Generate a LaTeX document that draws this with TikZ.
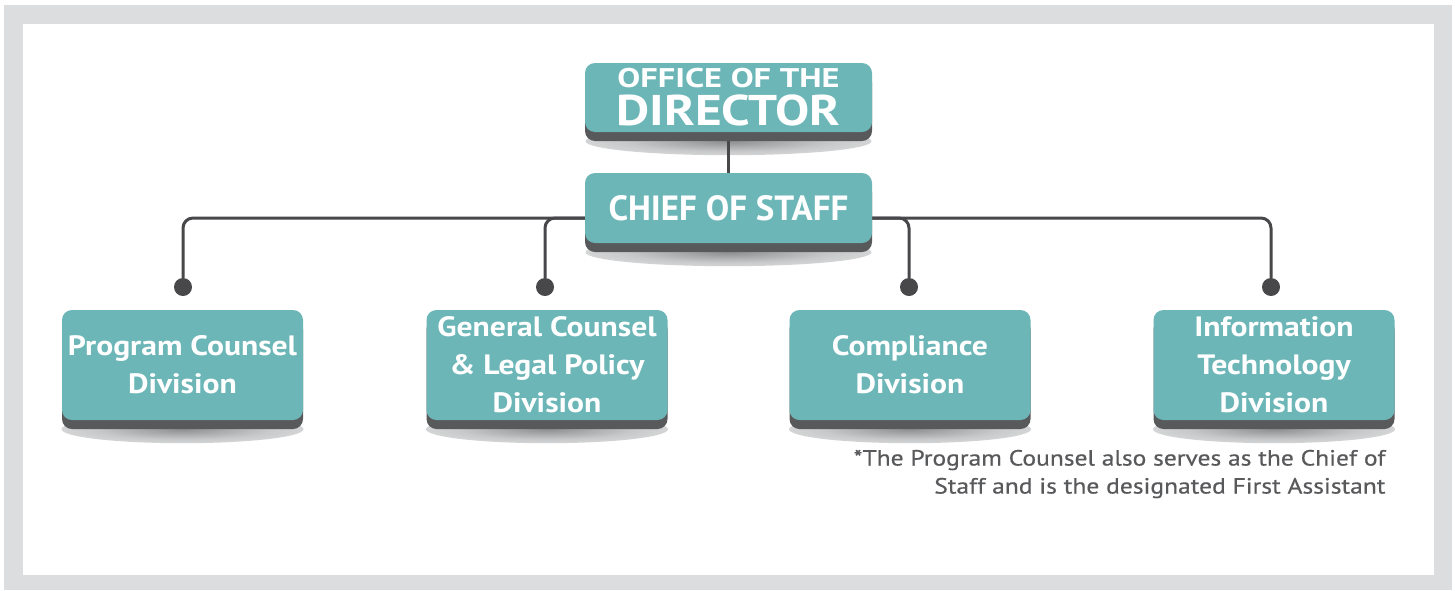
\documentclass[tikz,border=0pt]{standalone}
\usepackage{fontspec}
\setmainfont{PT Sans}
\usetikzlibrary{shadows}
\definecolor{tealbox}{HTML}{6DB6B7}
\definecolor{basegray}{HTML}{58595B}
\definecolor{linegray}{HTML}{48484B}
\definecolor{framegray}{HTML}{DCDDDE}
\definecolor{notegray}{HTML}{58595B}
\definecolor{shA}{HTML}{8E8F91}
\definecolor{shB}{HTML}{C8C9CA}
\pgfdeclareradialshading{softsh}{\pgfpoint{0bp}{0bp}}{color(0bp)=(shA);color(18bp)=(shB);color(50bp)=(white)}
\pgfdeclarelayer{bg}
\pgfdeclarelayer{mid}
\pgfsetlayers{bg,mid,main}
\begin{document}
\begin{tikzpicture}[x=1pt,y=-1pt,
  box/.style={fill=tealbox, rounded corners=10pt, text=white, align=center, inner sep=0pt,
    general shadow={shadow xshift=0pt, shadow yshift=-9pt, fill=basegray, opacity=1}},
  divbox/.style={box, minimum width=241pt, minimum height=110pt,
    font=\bfseries\addfontfeature{FakeStretch=1.13}\fontsize{28}{38}\selectfont},
  dot/.style={circle, fill=linegray, minimum size=18pt, inner sep=0pt},
  conn/.style={draw=linegray, line width=3pt, rounded corners=10pt},
  note/.style={text=notegray, align=right, anchor=east,
    font=\addfontfeature{FakeStretch=1.16,FakeBold=0.5}\fontsize{22}{28}\selectfont}]
\useasboundingbox (0,0) rectangle (1455,590);
\begin{pgfonlayer}{bg}
  \fill[framegray] (4,5) rectangle (1452,590);
  \fill[white] (23,24) rectangle (1434,575);
\end{pgfonlayer}

% boxes
\node[box, minimum width=287pt, minimum height=69pt,
  font=\bfseries\addfontfeature{FakeStretch=1.19}\fontsize{43}{38}\selectfont] (dir) at (728.5,97.5)
  {{\addfontfeature{FakeStretch=1.27}\fontsize{27}{38}\selectfont OFFICE OF THE}\\DIRECTOR};
\node[box, minimum width=287pt, minimum height=70pt, font=\bfseries\fontsize{35}{40}\selectfont] (chief) at (728.5,208) {CHIEF OF STAFF};
\node[divbox] (p1) at (182.5,365) {Program Counsel\\Division};
\node[divbox] (p2) at (547,365) {General Counsel\\\& Legal Policy\\Division};
\node[divbox] (p3) at (910,365) {Compliance\\Division};
\node[divbox] (p4) at (1274,365) {Information\\Technology\\Division};

% dots
\node[dot] (d1) at (183,287) {};
\node[dot] (d2) at (545,287) {};
\node[dot] (d3) at (909,287) {};
\node[dot] (d4) at (1271,287) {};

\coordinate (cl) at ([yshift=-10pt]chief.west);
\coordinate (cr) at ([yshift=-10pt]chief.east);

\begin{pgfonlayer}{mid}
  \foreach \n/\r in {dir/143, chief/143, p1/121, p2/121, p3/121, p4/121}{
    \shade[shading=softsh] ([yshift=-9pt]\n.south) ellipse [x radius=\r pt, y radius=14pt];
  }
  \draw[conn] (dir) -- (chief);
  \draw[conn] (cl) -| (d1);
  \draw[conn] (cl) -| (d2);
  \draw[conn] (cr) -| (d3);
  \draw[conn] (cr) -| (d4);
\end{pgfonlayer}

\node[note] (fn) at (1389,474) {*The Program Counsel also serves as the Chief of\\Staff and is the designated First Assistant};
\end{tikzpicture}
\end{document}
